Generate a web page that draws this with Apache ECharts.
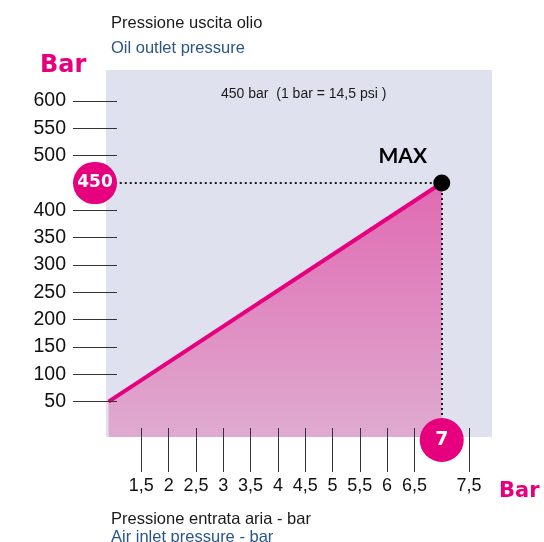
<!DOCTYPE html>
<html>
<head>
<meta charset="utf-8">
<script src="https://cdn.jsdelivr.net/npm/echarts@6/dist/echarts.min.js"></script>
<style>
  html, body { margin: 0; padding: 0; background: #ffffff; }
  #chart { width: 544px; height: 542px; }
</style>
</head>
<body>
<div id="chart"></div>
<script>
// Air inlet pressure (bar) vs oil outlet pressure (bar)
const inletPressure = [0.9, 7];
const outletPressure = [50, 450];

// Rated maximum point
const maxInlet = 7;
const maxOutlet = 450;

// Tick labels shown on each axis (the max values get their own badges)
const xTickValues = [1.5, 2, 2.5, 3, 3.5, 4, 4.5, 5, 5.5, 6, 6.5, 7.5];
const yTickValues = [50, 100, 150, 200, 250, 300, 350, 400, 500, 550, 600];

// Visible axis extents
const xRange = [0.853, 7.92];
const yRange = [-14.6, 656.7];

const PINK = '#e6007e';
const SANS = "'Liberation Sans', Arial, sans-serif";
const BOLD = "'DejaVu Sans', sans-serif";

const chart = echarts.init(document.getElementById('chart'), null, { renderer: 'canvas' });

const fmtComma = v => String(v).replace('.', ',');

const option = {
  animation: false,
  backgroundColor: '#ffffff',
  title: [
    { text: 'Bar', left: 35, top: 49,
      textStyle: { fontFamily: BOLD, fontWeight: 'bold', fontSize: 24, color: PINK } },
    { text: 'Pressione uscita olio', left: 106, top: 10,
      textStyle: { fontFamily: SANS, fontWeight: 'normal', fontSize: 16.5, color: '#1a1a1a' } },
    { text: 'Oil outlet pressure', left: 106, top: 35,
      textStyle: { fontFamily: SANS, fontWeight: 'normal', fontSize: 16.5, color: '#2b5488' } },
    { text: '450 bar  (1 bar = 14,5 psi )', left: 216, top: 82,
      textStyle: { fontFamily: SANS, fontWeight: 'normal', fontSize: 14, color: '#1a1a1a' } },
    { text: 'Bar', left: 494, top: 476,
      textStyle: { fontFamily: BOLD, fontWeight: 'bold', fontSize: 21, color: PINK } },
    { text: 'Pressione entrata aria - bar', left: 106, top: 506,
      textStyle: { fontFamily: SANS, fontWeight: 'normal', fontSize: 16.5, color: '#1a1a1a' } },
    { text: 'Air inlet pressure - bar', left: 106, top: 524,
      textStyle: { fontFamily: SANS, fontWeight: 'normal', fontSize: 16.5, color: '#2b5488' } }
  ],
  grid: {
    left: 106, right: 52, top: 70, bottom: 105,
    show: true, backgroundColor: '#dfe2ee', borderWidth: 0
  },
  xAxis: [
    {
      type: 'value', min: xRange[0], max: xRange[1], position: 'bottom',
      offset: -9, z: 3,
      axisLine: { show: false },
      splitLine: { show: false },
      axisTick: { show: true, customValues: xTickValues, length: 44, inside: false,
        lineStyle: { color: '#333333', width: 1 } },
      axisLabel: { show: true, customValues: xTickValues, margin: 49, formatter: fmtComma,
        fontFamily: SANS, fontSize: 18, color: '#111111' }
    },
    {
      type: 'value', min: xRange[0], max: xRange[1], position: 'bottom',
      offset: 0, z: 10,
      axisLine: { show: false },
      splitLine: { show: false },
      axisTick: { show: false },
      axisLabel: { show: true, customValues: [maxInlet], margin: -19,
        formatter: v => String(v),
        fontFamily: BOLD, fontWeight: 'bold', fontSize: 19, color: '#ffffff',
        backgroundColor: PINK, width: 44, height: 44, lineHeight: 44,
        align: 'center', verticalAlign: 'top', borderRadius: 22 }
    }
  ],
  yAxis: [
    {
      type: 'value', min: yRange[0], max: yRange[1], position: 'left',
      offset: -11, z: 3,
      axisLine: { show: false },
      splitLine: { show: false },
      axisTick: { show: true, customValues: yTickValues, length: 44, inside: false,
        lineStyle: { color: '#333333', width: 1 } },
      axisLabel: { show: true, customValues: yTickValues, margin: 51,
        fontFamily: SANS, fontSize: 19.5, color: '#111111' }
    },
    {
      type: 'value', min: yRange[0], max: yRange[1], position: 'left',
      offset: -11, z: 10,
      axisLine: { show: false },
      splitLine: { show: false },
      axisTick: { show: false },
      axisLabel: { show: true, customValues: [maxOutlet], margin: 22,
        formatter: v => String(v),
        fontFamily: BOLD, fontWeight: 'bold', fontSize: 17, color: '#ffffff',
        backgroundColor: PINK, width: 44, height: 42, lineHeight: 42,
        align: 'center', borderRadius: 22 }
    }
  ],
  series: [
    {
      name: 'Oil outlet pressure',
      type: 'line',
      xAxisIndex: 0, yAxisIndex: 0,
      data: inletPressure.map((x, i) => [x, outletPressure[i]]),
      showSymbol: false,
      symbol: 'none',
      z: 2,
      lineStyle: { color: PINK, width: 4 },
      areaStyle: {
        origin: 'start',
        opacity: 1,
        color: new echarts.graphic.LinearGradient(0, 0, 0, 1, [
          { offset: 0, color: '#e06ab2' },
          { offset: 1, color: '#dfabd0' }
        ])
      },
      markLine: {
        silent: true,
        symbol: 'none',
        label: { show: false },
        lineStyle: { color: '#1a1a1a', type: [2, 3], width: 2 },
        data: [
          [{ coord: [maxInlet, maxOutlet] }, { coord: [xRange[0], maxOutlet] }],
          [{ coord: [maxInlet, maxOutlet] }, { coord: [maxInlet, yRange[0]] }]
        ]
      }
    },
    {
      name: 'MAX',
      type: 'scatter',
      xAxisIndex: 0, yAxisIndex: 0,
      data: [[maxInlet, maxOutlet]],
      symbol: 'circle',
      symbolSize: 17,
      z: 5,
      itemStyle: { color: '#000000', opacity: 1 },
      label: {
        show: true, formatter: 'MAX', position: 'top', distance: 8, offset: [-39, 0],
        fontFamily: "'Lato', 'DejaVu Sans', sans-serif", fontWeight: 'bold',
        fontSize: 21, color: '#000000'
      }
    }
  ]
};

chart.setOption(option);
</script>
</body>
</html>
